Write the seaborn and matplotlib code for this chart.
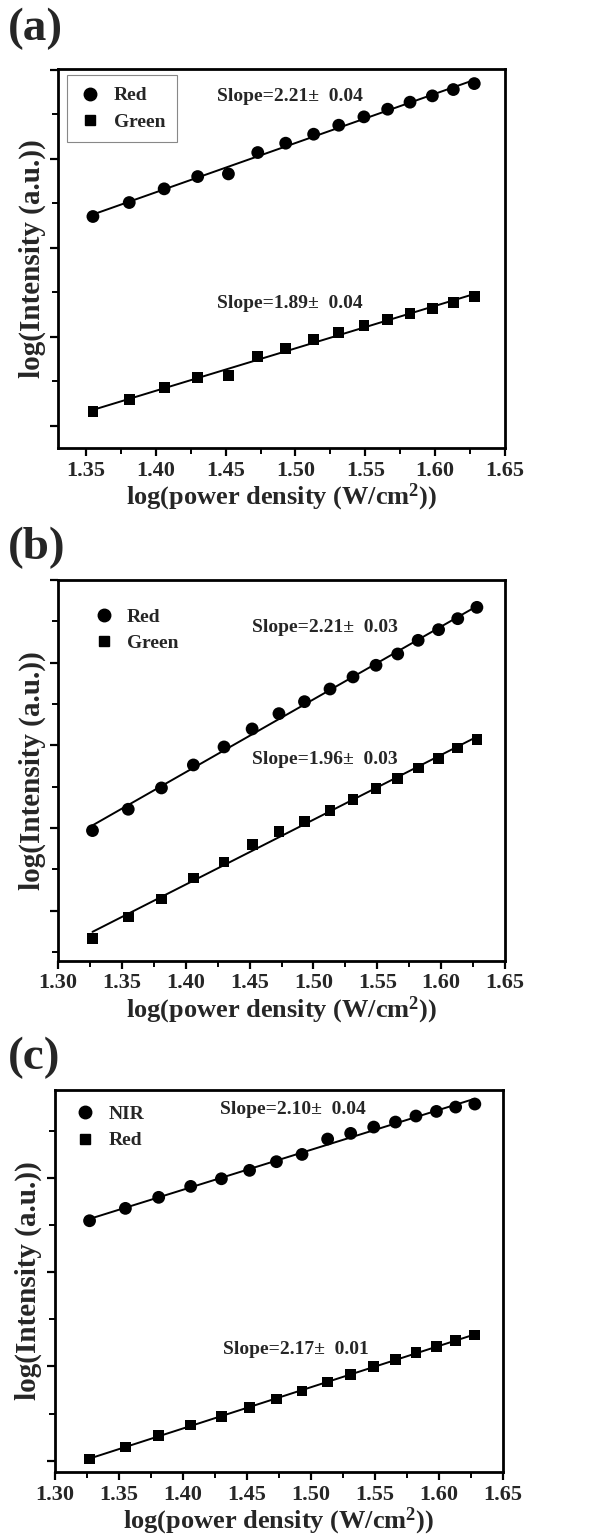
import numpy as np
import pandas as pd
import matplotlib
matplotlib.use("Agg")
import matplotlib.pyplot as plt
from matplotlib.ticker import MultipleLocator, NullFormatter
from matplotlib.lines import Line2D
import seaborn as sns

# ---------------- data (arbitrary y units) ----------------
x_a = [1.355, 1.381, 1.406, 1.430, 1.452, 1.473, 1.493, 1.513, 1.531, 1.549,
       1.566, 1.582, 1.598, 1.613, 1.628]
red_a = [3.352, 3.509, 3.663, 3.801, 3.831, 4.071, 4.176, 4.277, 4.378, 4.472,
         4.558, 4.637, 4.708, 4.779, 4.846]
green_a = [1.157, 1.296, 1.434, 1.539, 1.562, 1.779, 1.869, 1.966, 2.045, 2.127,
           2.191, 2.266, 2.318, 2.386, 2.453]

x_bc = [1.327, 1.355, 1.381, 1.406, 1.430, 1.452, 1.473, 1.493, 1.513, 1.531,
        1.549, 1.566, 1.582, 1.598, 1.613, 1.628]
red_b = [1.968, 2.226, 2.484, 2.762, 2.980, 3.198, 3.383, 3.528, 3.681, 3.827,
         3.968, 4.105, 4.270, 4.399, 4.532, 4.669]
green_b = [0.661, 0.923, 1.141, 1.395, 1.589, 1.798, 1.960, 2.081, 2.210, 2.343,
           2.476, 2.597, 2.726, 2.843, 2.968, 3.073]

nir_c = [3.544, 3.675, 3.792, 3.908, 3.989, 4.078, 4.170, 4.247, 4.410, 4.470,
         4.537, 4.590, 4.654, 4.703, 4.749, 4.781]
red_c = [1.018, 1.145, 1.269, 1.378, 1.470, 1.562, 1.654, 1.739, 1.834, 1.912,
         2.000, 2.071, 2.148, 2.212, 2.272, 2.332]

panel_labels = ["(a)", "(b)", "(c)"]
series_names = [("Red", "Green"), ("Red", "Green"), ("NIR", "Red")]
slope_texts = [("Slope=2.21\u00b1  0.04", "Slope=1.89\u00b1  0.04"),
               ("Slope=2.21\u00b1  0.03", "Slope=1.96\u00b1  0.03"),
               ("Slope=2.10\u00b1  0.04", "Slope=2.17\u00b1  0.01")]
xtick_vals = [1.30, 1.35, 1.40, 1.45, 1.50, 1.55, 1.60, 1.65]
xlabel = "log(power density (W/cm$^{2}$))"
ylabel = "log(Intensity (a.u.))"

# ---------------- style ----------------
sns.set_theme(style="ticks")
plt.rcParams["font.family"] = ["Liberation Serif", "DejaVu Serif"]
plt.rcParams["font.weight"] = "bold"
plt.rcParams["axes.labelweight"] = "bold"
plt.rcParams["mathtext.fontset"] = "custom"
plt.rcParams["mathtext.rm"] = "Liberation Serif:bold"
plt.rcParams["mathtext.it"] = "Liberation Serif:bold"
plt.rcParams["mathtext.bf"] = "Liberation Serif:bold"
plt.rcParams["mathtext.default"] = "rm"

W, H = 603, 1538
fig = plt.figure(figsize=(W / 100, H / 100), dpi=100)

def frac(left, top, right, bottom):
    return [left / W, 1 - bottom / H, (right - left) / W, (bottom - top) / H]

rects = [frac(58, 69, 505, 448), frac(58, 580, 505, 961), frac(55, 1090, 503, 1472)]
xlims = [(1.33, 1.65), (1.30, 1.65), (1.30, 1.65)]
ylims = [(0.75, 5.01), (0.39, 5.0), (0.88, 4.93)]
xs = [x_a, x_bc, x_bc]
ys = [(red_a, green_a), (red_b, green_b), (nir_c, red_c)]
slope_pos = [((1.496, 4.70), (1.496, 2.371)),
             ((1.509, 4.427), (1.509, 2.827)),
             ((1.486, 4.721), (1.488, 2.177))]
legend_anchor = [(0.02, 0.984), (0.05, 0.957), (0.015, 0.99)]
legend_frame = [True, False, False]
label_tops = [8, 527, 1037]

for i in range(3):
    ax = fig.add_axes(rects[i])
    x = xs[i]
    y1, y2 = ys[i]
    n1, n2 = series_names[i]
    for yy, mk, s, name in [(y1, "o", 85, n1), (y2, "s", 60, n2)]:
        df = pd.DataFrame({"x": x, "y": yy})
        sns.regplot(data=df, x="x", y="y", ax=ax, ci=None, truncate=True,
                    marker=mk,
                    scatter_kws=dict(s=s, color="black", edgecolors="none",
                                     alpha=1.0, zorder=3),
                    line_kws=dict(color="black", lw=1.4, zorder=2))
    ax.set_xlim(*xlims[i])
    ax.set_ylim(*ylims[i])
    shown = [v for v in xtick_vals if xlims[i][0] - 1e-9 <= v <= xlims[i][1] + 1e-9]
    ax.set_xticks(shown)
    ax.set_xticklabels([f"{v:.2f}" for v in shown])
    ax.xaxis.set_minor_locator(MultipleLocator(0.025))
    ax.yaxis.set_major_locator(MultipleLocator(1.0))
    ax.yaxis.set_minor_locator(MultipleLocator(0.5))
    ax.yaxis.set_major_formatter(NullFormatter())
    ax.tick_params(axis="both", which="major", direction="out", length=6, width=1.6,
                   color="black", labelsize=16, pad=3)
    ax.tick_params(axis="both", which="minor", direction="out", length=4, width=1.4,
                   color="black")
    for lab in ax.get_xticklabels():
        lab.set_fontweight("bold")
    for sp in ax.spines.values():
        sp.set_visible(True)
        sp.set_linewidth(2.0)
        sp.set_color("black")
    ax.set_xlabel(xlabel, fontsize=19, fontweight="bold", labelpad=1)
    ax.set_ylabel(ylabel, fontsize=21, fontweight="bold", labelpad=0)

    (tx1, ty1), (tx2, ty2) = slope_pos[i]
    t1, t2 = slope_texts[i]
    ax.text(tx1, ty1, t1, ha="center", va="center", fontsize=14, fontweight="bold")
    ax.text(tx2, ty2, t2, ha="center", va="center", fontsize=14, fontweight="bold")

    handles = [Line2D([], [], ls="none", marker="o", color="black", markersize=9, label=n1),
               Line2D([], [], ls="none", marker="s", color="black", markersize=7.5, label=n2)]
    leg = ax.legend(handles=handles, loc="upper left", bbox_to_anchor=legend_anchor[i],
                    borderaxespad=0, frameon=legend_frame[i], fancybox=False,
                    edgecolor="#888888", framealpha=1, handletextpad=0.6,
                    handlelength=1.2, labelspacing=0.45,
                    prop=dict(size=14, weight="bold"), borderpad=0.6)
    if legend_frame[i]:
        leg.get_frame().set_linewidth(0.8)

    fig.text(8 / W, 1 - label_tops[i] / H,
             panel_labels[i], ha="left", va="top", fontsize=34, fontweight="bold")

fig.savefig("out.png", dpi=100, facecolor="white")
